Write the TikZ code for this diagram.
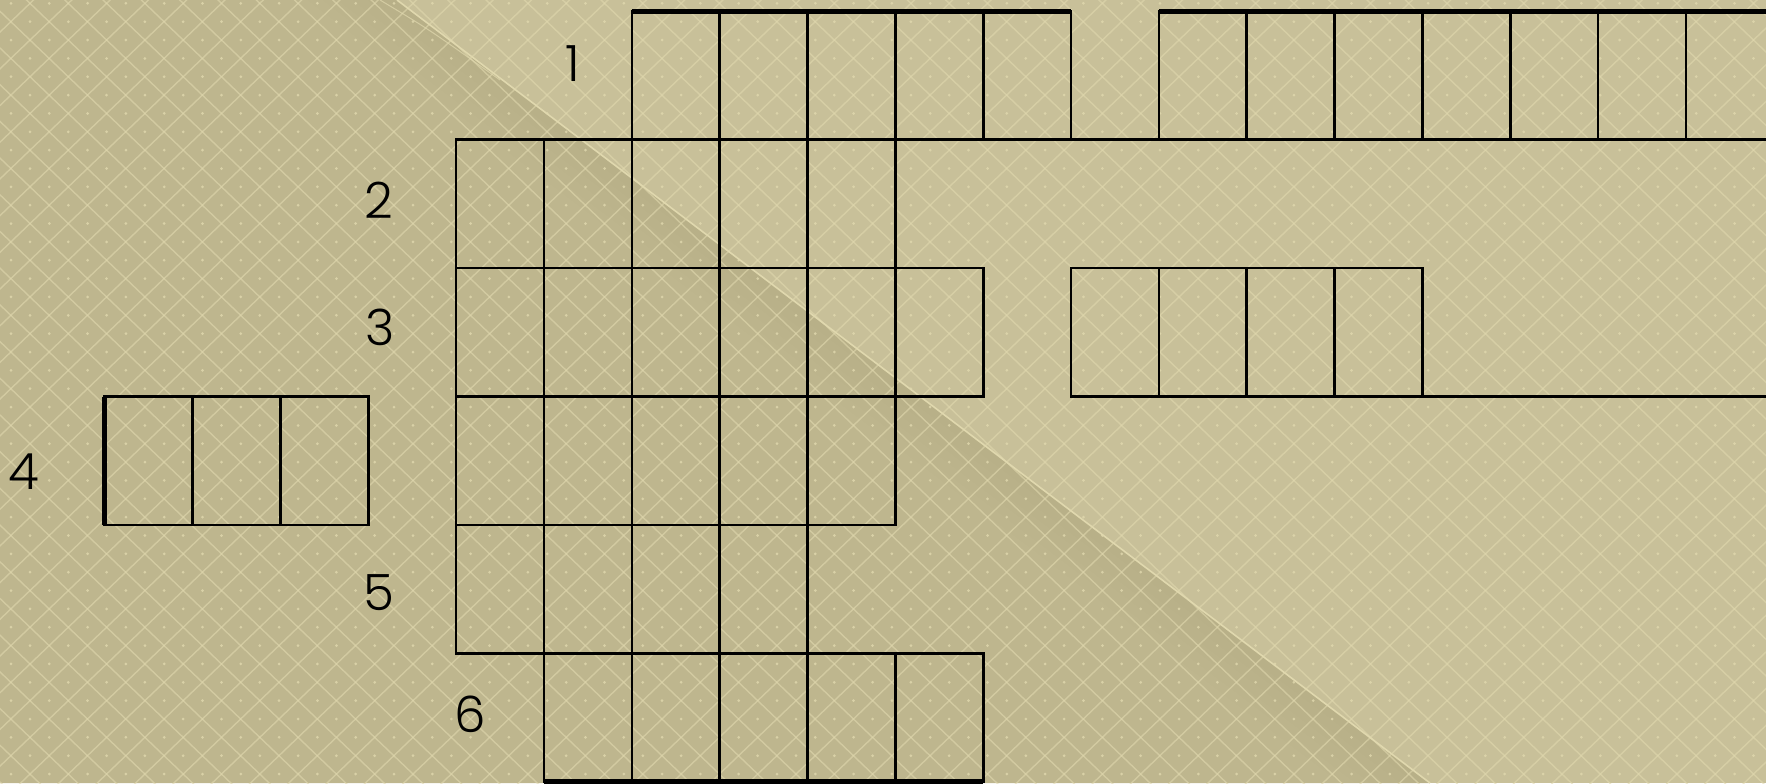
\documentclass[tikz,border=0pt]{standalone}
\usepackage{fontspec}
\IfFontExistsTF{Poppins Light}{\setmainfont{Poppins Light}}{\setmainfont{Poppins}}
\definecolor{bgA}{RGB}{200,192,153}
\definecolor{bgB}{RGB}{190,182,142}
\definecolor{latt}{RGB}{224,216,174}
\definecolor{shadowc}{RGB}{150,140,100}
\def\cw{87.85}
\def\ch{128.4}
\def\xo{456.1}
\def\yo{11.3}
\tikzset{
  cellline/.style={draw=black, line width=1.3pt},
  heavyline/.style={draw=black, line width=2.6pt},
  lattline/.style={draw=latt, line width=0.7pt, opacity=0.6},
  dotc/.style={fill=latt, opacity=0.8},
  lbl/.style={font=\fontsize{25}{30}\selectfont, text=black, inner sep=0pt}
}
\newcommand\cellrow[3]{%
  \foreach \c in {#2,...,#3} {\draw[cellline] ({\xo+\cw*\c},{\yo+\ch*#1}) rectangle ++(\cw,\ch);}}
\begin{document}
\begin{tikzpicture}[x=0.5pt,y=-0.5pt]
\useasboundingbox (0,0) rectangle (1766,783);
\begin{scope}
\clip (0,0) rectangle (1766,783);
% background
\fill[bgA] (0,0) rectangle (1766,783);
\fill[bgB] (0,0) -- (397,0) -- (1430,783) -- (0,783) -- cycle;
\foreach \o in {15,30,...,90} {
  \fill[shadowc, opacity=0.004] (397,0) -- (1430,783) -- ({1430-\o},783) -- ({397-\o},0) -- cycle;
}
% lattice
\foreach \k in {-3,-1,...,135} {
  \draw[lattline] ({30+19.15*(\k+2.2725)},-20) -- ({30+19.15*(\k-42.414)},800);
}
\foreach \k in {-45,-43,...,93} {
  \draw[lattline] ({30+19.15*(\k-2.2725)},-20) -- ({30+19.15*(\k+42.414)},800);
}
\foreach \i in {-1,...,46} {
  \foreach \j in {-1,...,21} {
    \fill[dotc] ({30+38.3*\i},{21.7+36.7*\j}) circle (1.5);
    \fill[dotc] ({11+38.3*\i},{40+36.7*\j}) circle (1.5);
  }
}
\draw[draw=latt, line width=0.8pt] (397,0) -- (1430,783);
\draw[draw=latt, line width=0.5pt, opacity=0.7] (380,0) .. controls (430,30) .. (500,80);
% grid
\cellrow{0}{2}{6}
\cellrow{0}{8}{15}
\cellrow{1}{0}{4}
\cellrow{2}{0}{5}
\cellrow{2}{7}{10}
\cellrow{3}{0}{4}
\cellrow{3}{-4}{-2}
\cellrow{4}{0}{3}
\cellrow{5}{1}{5}
\draw[cellline] ({\xo+\cw*5},{\yo+\ch*1}) -- (1780,{\yo+\ch*1});
\draw[cellline] ({\xo+\cw*11},{\yo+\ch*3}) -- (1780,{\yo+\ch*3});
\draw[heavyline] ({\xo+\cw*2},{\yo}) -- ({\xo+\cw*7},{\yo});
\draw[heavyline] ({\xo+\cw*8},{\yo}) -- (1780,{\yo});
\draw[heavyline] ({\xo-\cw*4},{\yo+\ch*3}) -- ({\xo-\cw*4},{\yo+\ch*4});
\draw[heavyline] ({\xo+\cw*1},{\yo+\ch*6}) -- ({\xo+\cw*6},{\yo+\ch*6});
\end{scope}
% labels
\node[lbl] (n1) at (573,64) {1};
\node[lbl] (n2) at (379,200) {2};
\node[lbl] (n3) at (380,327) {3};
\node[lbl] (n4) at (24,472) {4};
\node[lbl] (n5) at (379,593) {5};
\node[lbl] (n6) at (470,714) {6};
\end{tikzpicture}
\end{document}
